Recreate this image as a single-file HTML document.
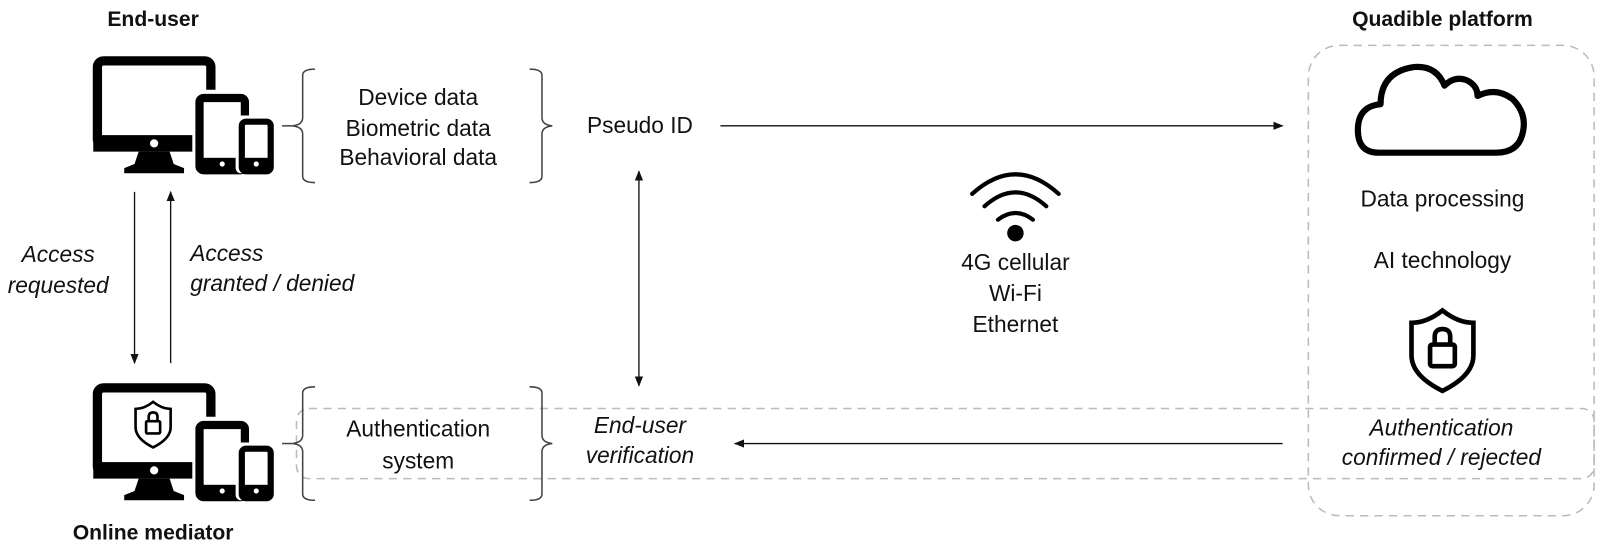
<!DOCTYPE html>
<html><head><meta charset="utf-8"><style>
html,body{margin:0;padding:0;background:#fff;}
svg{display:block;}
text{font-family:"Liberation Sans",sans-serif;fill:#111;}
.t{font-size:22px;}
.i{font-size:22px;font-style:italic;}
.b{font-size:20.5px;font-weight:bold;}
</style></head><body>
<svg width="1610" height="557" viewBox="0 0 1560 540" xmlns="http://www.w3.org/2000/svg">
<defs>
<marker id="ah" markerWidth="10" markerHeight="8" refX="9" refY="4" orient="auto" markerUnits="userSpaceOnUse">
<path d="M0,0 L10,4 L0,8 z" fill="#111"/></marker>
<marker id="as" markerWidth="10" markerHeight="8" refX="1" refY="4" orient="auto" markerUnits="userSpaceOnUse">
<path d="M10,0 L0,4 L10,8 z" fill="#111"/></marker>
<g id="dev">
<rect x="4" y="4" width="110" height="82" rx="6" fill="none" stroke="#000" stroke-width="9"/>
<rect x="0" y="76" width="118" height="16" fill="#000"/>
<circle cx="59" cy="84" r="4" fill="#fff"/>
<path d="M44,92 L74,92 L78,104 L88,108 L88,113 L30,113 L30,108 L40,104 z" fill="#000"/>
<rect x="96" y="32" width="58" height="81" rx="6" fill="#fff"/>
<rect x="103" y="40" width="44" height="70" rx="4" fill="none" stroke="#000" stroke-width="8"/>
<rect x="103" y="98" width="44" height="12" fill="#000"/>
<circle cx="125" cy="104" r="2.5" fill="#fff"/>
<rect x="138" y="57" width="40" height="56" rx="5" fill="#fff"/>
<rect x="144" y="63" width="28" height="48" rx="4" fill="none" stroke="#000" stroke-width="6"/>
<rect x="144" y="98" width="28" height="12" fill="#000"/>
<circle cx="158" cy="104" r="2.5" fill="#fff"/>
</g>
<g id="shield">
<path d="M0,-24 Q10,-16 20,-16 L20,5 Q20,18 0,28 Q-20,18 -20,5 L-20,-16 Q-10,-16 0,-24 z" fill="none" stroke="#000" stroke-width="3"/>
<rect x="-8" y="-2" width="16" height="14" rx="1.5" fill="none" stroke="#000" stroke-width="3"/>
<path d="M-5,-2 L-5,-7 Q-5,-12 0,-12 Q5,-12 5,-7 L5,-2" fill="none" stroke="#000" stroke-width="3"/>
</g>
<g id="br">
<path d="M22,0 Q10,0 10,6 L10,47 Q10,54 0,55 Q10,56 10,63 L10,104 Q10,110 22,110" fill="none" stroke="#444" stroke-width="1.5"/>
</g>
</defs>

<rect x="1268" y="44" width="277" height="456" rx="30" fill="none" stroke="#bbb" stroke-width="1.5" stroke-dasharray="8,6"/>
<rect x="287" y="396" width="1258" height="68" rx="12" fill="none" stroke="#bbb" stroke-width="1.5" stroke-dasharray="8,6"/>

<text class="b" x="148" y="25" text-anchor="middle">End-user</text>
<text class="b" x="1398" y="25" text-anchor="middle">Quadible platform</text>
<text class="b" x="148" y="523" text-anchor="middle">Online mediator</text>

<use href="#dev" x="90" y="55"/>
<use href="#dev" x="90" y="372"/>
<g transform="translate(148,410) scale(0.85)"><use href="#shield"/></g>

<line x1="273" y1="122" x2="283" y2="122" stroke="#444" stroke-width="1.5"/>
<use href="#br" x="283" y="67"/>
<g transform="translate(535,67) scale(-1,1)"><use href="#br"/></g>
<text class="t" x="405" y="102" text-anchor="middle">Device data</text>
<text class="t" x="405" y="132" text-anchor="middle">Biometric data</text>
<text class="t" x="405" y="160" text-anchor="middle">Behavioral data</text>

<line x1="273" y1="430" x2="283" y2="430" stroke="#444" stroke-width="1.5"/>
<use href="#br" x="283" y="375"/>
<g transform="translate(535,375) scale(-1,1)"><use href="#br"/></g>
<text class="t" x="405" y="423" text-anchor="middle">Authentication</text>
<text class="t" x="405" y="454" text-anchor="middle">system</text>

<text class="t" x="620" y="129" text-anchor="middle">Pseudo ID</text>
<line x1="698" y1="122" x2="1243" y2="122" stroke="#111" stroke-width="1.3" marker-end="url(#ah)"/>
<line x1="619" y1="166" x2="619" y2="374" stroke="#111" stroke-width="1.3" marker-end="url(#ah)" marker-start="url(#as)"/>

<text class="i" x="620" y="420" text-anchor="middle">End-user</text>
<text class="i" x="620" y="449" text-anchor="middle">verification</text>
<line x1="1243" y1="430" x2="712" y2="430" stroke="#111" stroke-width="1.3" marker-end="url(#ah)"/>

<text class="i" x="1397" y="422" text-anchor="middle">Authentication</text>
<text class="i" x="1397" y="451" text-anchor="middle">confirmed / rejected</text>

<line x1="130" y1="186" x2="130" y2="352" stroke="#111" stroke-width="1.3" marker-end="url(#ah)"/>
<line x1="165" y1="352" x2="165" y2="186" stroke="#111" stroke-width="1.3" marker-end="url(#ah)"/>
<text class="i" x="56" y="254" text-anchor="middle">Access</text>
<text class="i" x="56" y="284" text-anchor="middle">requested</text>
<text class="i" x="184" y="253">Access</text>
<text class="i" x="184" y="282">granted / denied</text>

<g fill="none" stroke="#000" stroke-width="4" stroke-linecap="round">
<path d="M942,188 Q984,150 1026,188"/>
<path d="M954,200 Q984,173 1014,200"/>
<path d="M967,213 Q984,200 1001,213"/>
</g>
<circle cx="984" cy="226" r="8" fill="#000"/>
<text class="t" x="984" y="262" text-anchor="middle">4G cellular</text>
<text class="t" x="984" y="292" text-anchor="middle">Wi-Fi</text>
<text class="t" x="984" y="322" text-anchor="middle">Ethernet</text>

<path d="M1336,148 Q1316,148 1316,126 Q1316,103 1338,101 Q1338,70 1370,65 Q1392,63 1400,83 Q1410,73 1422,78 Q1432,83 1432,93 Q1450,84 1466,96 Q1480,110 1476,128 Q1472,148 1450,148 Z" fill="none" stroke="#000" stroke-width="6" stroke-linejoin="round"/>
<text class="t" x="1398" y="200" text-anchor="middle">Data processing</text>
<text class="t" x="1398" y="260" text-anchor="middle">AI technology</text>
<g transform="translate(1398,337) scale(1.5)"><use href="#shield"/></g>
</svg>
</body></html>
